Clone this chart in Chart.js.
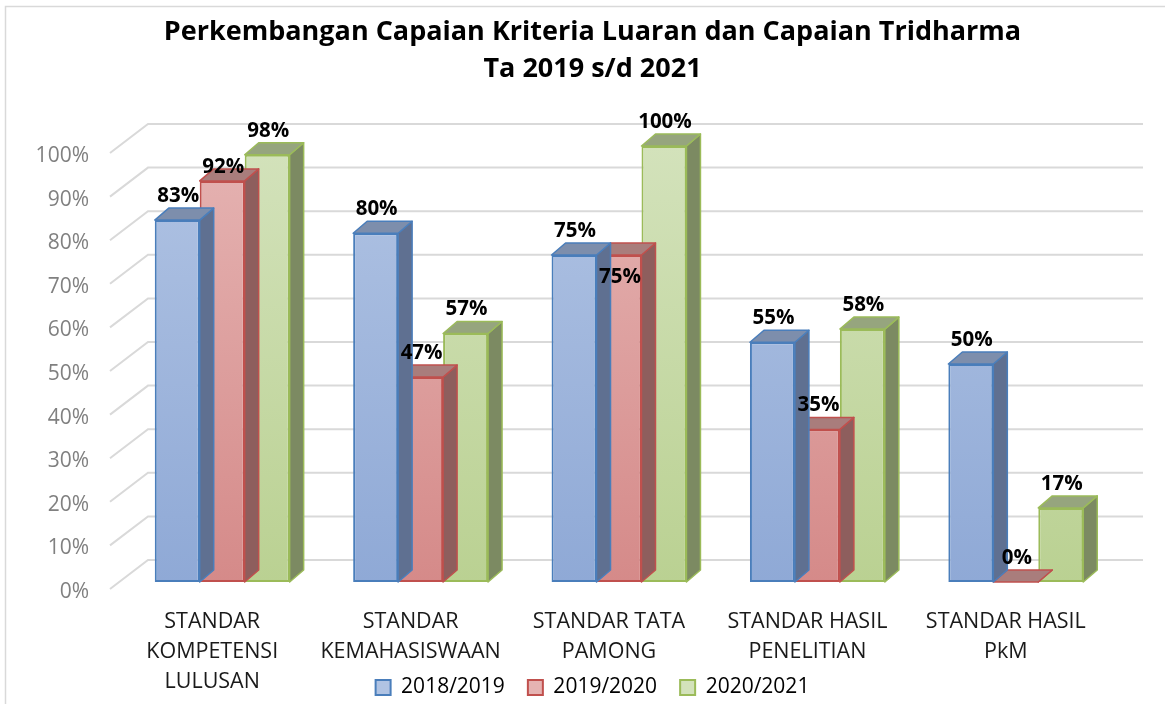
<!DOCTYPE html>
<html>
<head>
<meta charset="utf-8">
<script src="https://cdn.jsdelivr.net/npm/chart.js@4/dist/chart.umd.min.js"></script>
<style>
  html, body { margin: 0; padding: 0; background: #fff; }
  #wrap { width: 1165px; height: 704px; position: relative; }
</style>
</head>
<body>
<div id="wrap"><canvas id="chart"></canvas></div>
<script>
var categories = [
    ['STANDAR', 'KOMPETENSI', 'LULUSAN'],
    ['STANDAR', 'KEMAHASISWAAN'],
    ['STANDAR TATA', 'PAMONG'],
    ['STANDAR HASIL', 'PENELITIAN'],
    ['STANDAR HASIL', 'PkM']
];
var seriesNames = ['2018/2019', '2019/2020', '2020/2021'];
var values2018 = [83, 80, 75, 55, 50];
var values2019 = [92, 47, 75, 35, 0];
var values2020 = [98, 57, 100, 58, 17];
var yTicks = [0, 10, 20, 30, 40, 50, 60, 70, 80, 90, 100];

// colours for every series: front top, front bottom, border, side, top face
var palette = [
    {light: '#b0c3e3', dark: '#8fa9d6', border: '#4a7ebb', side: '#5f7091', top: '#7d8eac'},
    {light: '#e5b3b2', dark: '#d58a89', border: '#c0504d', side: '#8e5e5d', top: '#a97d7c'},
    {light: '#d3e2bb', dark: '#bad192', border: '#9bbb59', side: '#7c8a62', top: '#96a57e'}
];

var depthX = 14;
var depthY = 12;
var fontName = "'Open Sans', sans-serif";

var frontGradient = function (context, i) {
    let chart = context.chart;
    let area = chart.chartArea;
    if (!area) return palette[i].light;
    let g = chart.ctx.createLinearGradient(0, area.top, 0, area.bottom);
    g.addColorStop(0, palette[i].light);
    g.addColorStop(1, palette[i].dark);
    return g;
};

// back wall gridlines, diagonal floor lines and the axis labels
var wallPlugin = {
    id: 'wall',
    beforeDatasetsDraw: function (chart) {
        let ctx = chart.ctx;
        let area = chart.chartArea;
        let y = chart.scales.y;
        let x = chart.scales.x;
        ctx.save();
        ctx.strokeStyle = '#d9d9d9';
        ctx.lineWidth = 2;
        for (let i = 0; i < yTicks.length; i++) {
            let fy = y.getPixelForValue(yTicks[i]) + 7;
            let by = fy - 29;
            ctx.beginPath();
            ctx.moveTo(area.left - 13, fy);
            ctx.lineTo(area.left + 25, by);
            ctx.lineTo(area.right + 28, by);
            ctx.stroke();
        }
        ctx.font = '21px ' + fontName;
        ctx.fillStyle = '#808080';
        ctx.textAlign = 'right';
        ctx.textBaseline = 'middle';
        for (let i = 0; i < yTicks.length; i++) {
            ctx.fillText(yTicks[i] + '%', area.left - 34, y.getPixelForValue(yTicks[i]) + 10);
        }
        // category labels (the axis box is too short for three lines)
        ctx.font = '21.5px ' + fontName;
        ctx.fillStyle = '#1a1a1a';
        ctx.textAlign = 'center';
        for (let i = 0; i < categories.length; i++) {
            let cx = x.getPixelForValue(i) - 10;
            for (let k = 0; k < categories[i].length; k++) {
                ctx.fillText(categories[i][k], cx, area.bottom + 40 + k * 30);
            }
        }
        ctx.restore();
    },
    beforeDraw: function (chart) {
        let ctx = chart.ctx;
        ctx.save();
        ctx.strokeStyle = '#d9d9d9';
        ctx.lineWidth = 1.5;
        ctx.strokeRect(5.5, 6.5, chart.width + 10, chart.height + 10);
        ctx.restore();
    }
};

// side and top faces of every bar, drawn right after its dataset
var boxPlugin = {
    id: 'box3d',
    afterDatasetDraw: function (chart, args) {
        let ctx = chart.ctx;
        let i = args.index;
        let meta = chart.getDatasetMeta(i);
        let p = palette[i];
        ctx.save();
        ctx.lineWidth = 1.5;
        ctx.lineJoin = 'round';
        ctx.strokeStyle = p.border;
        meta.data.forEach(function (bar) {
            let left = bar.x - bar.width / 2;
            let right = bar.x + bar.width / 2;
            let top = bar.y;
            let base = bar.base;
            // side
            ctx.beginPath();
            ctx.moveTo(right, top);
            ctx.lineTo(right + depthX, top - depthY);
            ctx.lineTo(right + depthX, base - depthY);
            ctx.lineTo(right, base);
            ctx.closePath();
            ctx.fillStyle = p.side;
            ctx.fill();
            ctx.stroke();
            // top
            ctx.beginPath();
            ctx.moveTo(left, top);
            ctx.lineTo(left + depthX, top - depthY);
            ctx.lineTo(right + depthX, top - depthY);
            ctx.lineTo(right, top);
            ctx.closePath();
            ctx.fillStyle = p.top;
            ctx.fill();
            ctx.stroke();
        });
        ctx.restore();
    }
};

// value labels above the bars
var labelPlugin = {
    id: 'valueLabels',
    afterDatasetsDraw: function (chart, args, opts) {
        let ctx = chart.ctx;
        ctx.save();
        ctx.font = 'bold 20.5px ' + fontName;
        ctx.fillStyle = '#000';
        ctx.textAlign = 'center';
        ctx.textBaseline = 'middle';
        chart.data.datasets.forEach(function (ds, i) {
            let meta = chart.getDatasetMeta(i);
            meta.data.forEach(function (bar, j) {
                let shift = (opts.shift[i] && opts.shift[i][j]) || 0;
                ctx.fillText(ds.data[j] + '%', bar.x + 1, bar.y - 24 + shift);
            });
        });
        ctx.restore();
    }
};

var makeDataset = function (i, data) {
    return {
        label: seriesNames[i],
        data: data,
        backgroundColor: function (context) { return frontGradient(context, i); },
        borderColor: palette[i].border,
        borderWidth: 2,
        borderSkipped: false
    };
};

var chart = new Chart(document.getElementById('chart'), {
    type: 'bar',
    data: {
        labels: categories,
        datasets: [
            makeDataset(0, values2018),
            makeDataset(1, values2019),
            makeDataset(2, values2020)
        ]
    },
    options: {
        responsive: true,
        maintainAspectRatio: false,
        animation: false,
        datasets: {
            bar: {
                barPercentage: 1,
                categoryPercentage: 0.68
            }
        },
        layout: {
            padding: {left: 70, right: 50, top: 0, bottom: -4}
        },
        plugins: {
            title: {
                display: true,
                text: ['Perkembangan Capaian Kriteria Luaran dan Capaian Tridharma', 'Ta 2019 s/d 2021'],
                color: '#000',
                font: {family: fontName, size: 27, weight: 'bold', lineHeight: 37 / 27},
                padding: {top: 14, bottom: 58}
            },
            legend: {
                position: 'bottom',
                labels: {
                    color: '#1a1a1a',
                    font: {family: fontName, size: 21},
                    boxWidth: 15,
                    boxHeight: 15,
                    padding: 23,
                    generateLabels: function (chart) {
                        return chart.data.datasets.map(function (ds, i) {
                            return {
                                text: ds.label,
                                fillStyle: palette[i].light,
                                strokeStyle: palette[i].border,
                                lineWidth: 2,
                                datasetIndex: i
                            };
                        });
                    }
                }
            },
            tooltip: {enabled: false},
            valueLabels: {
                shift: {1: {0: 10, 2: 46}}
            }
        },
        scales: {
            x: {
                grid: {display: false, drawTicks: false},
                border: {display: false},
                ticks: {display: false},
                afterFit: function (scale) { scale.height = 72; }
            },
            y: {
                min: 0,
                max: 100,
                grid: {display: false, drawTicks: false},
                border: {display: false},
                ticks: {display: false, stepSize: 10},
                afterFit: function (scale) { scale.width = 53; }
            }
        }
    },
    plugins: [wallPlugin, boxPlugin, labelPlugin]
});
</script>
</body>
</html>
